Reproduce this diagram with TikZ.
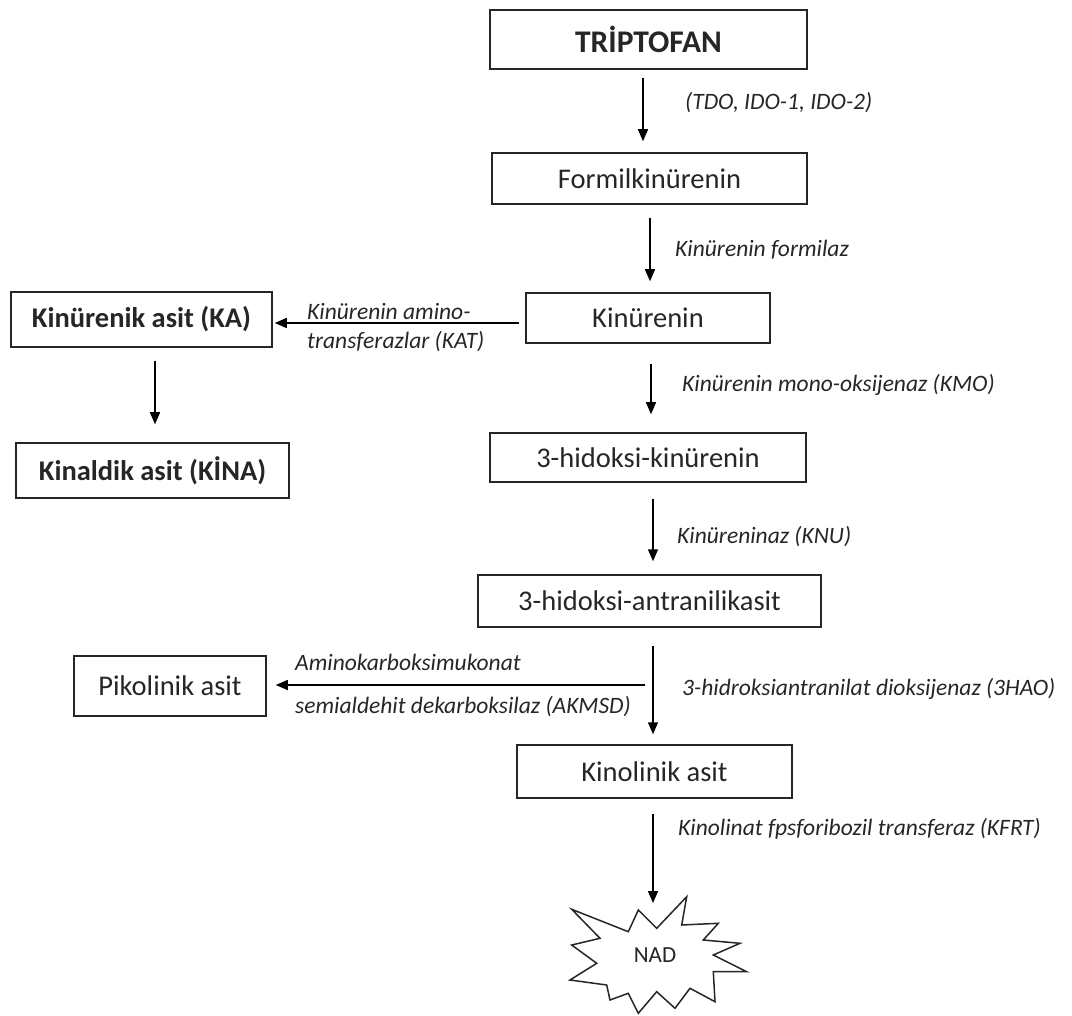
\documentclass[tikz,border=0pt]{standalone}
\usepackage{fontspec}
\setmainfont{Carlito}
\usetikzlibrary{arrows.meta}
\begin{document}
\begin{tikzpicture}[x=1pt,y=-1pt,
  box/.style={draw=black!85,line width=1.5pt,rectangle,inner sep=0pt,font=\fontsize{28.5}{34}\selectfont,text=black!85},
  boldbox/.style={box,font=\fontsize{28.5}{34}\selectfont\bfseries},
  lab/.style={anchor=west,inner sep=0pt,font=\fontsize{23.5}{28}\selectfont\itshape,text=black!85},
  arr/.style={line width=1.5pt,-{Triangle[length=12pt,width=10pt]}}]
\useasboundingbox (0,0) rectangle (1072,1016);
% boxes
\node[boldbox,minimum width=317pt,minimum height=59pt,font=\fontsize{31.5}{36}\selectfont\bfseries] (tript) at (648.5,39.5) {TRİPTOFAN};
\node[box,minimum width=315pt,minimum height=51pt] (formil) at (649.5,178.5) {Formilkinürenin};
\node[box,minimum width=244pt,minimum height=50pt] (kin) at (648,318) {Kinürenin};
\node[boldbox,minimum width=261pt,minimum height=55pt] (ka) at (141.5,319.5) {Kinürenik asit (KA)};
\node[boldbox,minimum width=273pt,minimum height=55pt] (kina) at (152.5,470.5) {Kinaldik asit (KİNA)};
\node[box,minimum width=316pt,minimum height=49pt] (hk) at (648,457.5) {3-hidoksi-kinürenin};
\node[box,minimum width=343pt,minimum height=52pt] (ha) at (649.5,601) {3-hidoksi-antranilikasit};
\node[box,minimum width=192pt,minimum height=60pt] (pik) at (170,686) {Pikolinik asit};
\node[box,minimum width=275pt,minimum height=53pt] (kinol) at (654.5,771.5) {Kinolinik asit};
% NAD star
\draw[black!85,line width=1.5pt,fill=white]
 (571.7,909.3) -- (628.3,931.7) -- (638.3,910) -- (656.7,928.3) -- (686.7,896.7)
 -- (681.7,925) -- (718.3,923.3) -- (703.3,940) -- (740,943.3) -- (713.3,955)
 -- (746.7,971.7) -- (713.3,971.7) -- (715,1001.7) -- (690,988.3) -- (675,1008.3)
 -- (656.7,991.7) -- (638.3,1013.3) -- (628.3,993.3) -- (610,1000) -- (606.7,985)
 -- (570,980) -- (596.7,963.3) -- (571.7,945) -- (600,938.3) -- cycle;
\node[inner sep=0pt,font=\fontsize{23}{27}\selectfont,text=black!85] (nad) at (655,955) {NAD};
\coordinate (nadtip) at (653,903);
% arrow x positions
\coordinate (x1) at (643,0);
\coordinate (x2) at (650,0);
\coordinate (x3) at (651,0);
\coordinate (x4) at (653,0);
\coordinate (xk) at (155,0);
\coordinate (ya) at (0,323);
\coordinate (yp) at (0,685);
\coordinate (pstart) at (645,685);
% arrows
\draw[arr,shorten <=8pt,shorten >=11pt] (tript.south -| x1) -- (formil.north -| x1);
\draw[arr,shorten <=13pt,shorten >=11pt] (formil.south -| x2) -- (kin.north -| x2);
\draw[arr,shorten <=20pt,shorten >=18pt] (kin.south -| x3) -- (hk.north -| x3);
\draw[arr,shorten <=16pt,shorten >=13pt] (hk.south -| x4) -- (ha.north -| x4);
\draw[arr,shorten <=18pt,shorten >=10pt] (ha.south -| x4) -- (kinol.north -| x4);
\draw[arr,shorten <=15pt] (kinol.south -| x4) -- (nadtip);
\draw[arr,shorten <=6pt,shorten >=2pt] (kin.west |- ya) -- (ka.east |- ya);
\draw[arr,shorten <=13pt,shorten >=18pt] (ka.south -| xk) -- (kina.north -| xk);
\draw[arr,shorten >=9pt] (pstart) -- (pik.east |- yp);
% labels
\node[lab] (l1) at (685,103) {(TDO, IDO-1, IDO-2)};
\node[lab] (l2) at (675,250) {Kinürenin formilaz};
\node[lab] (l3a) at (307,311) {Kinürenin amino-};
\node[lab] (l3b) at (307,342) {transferazlar (KAT)};
\node[lab] (l4) at (682,385) {Kinürenin mono-oksijenaz (KMO)};
\node[lab] (l5) at (677,537) {Kinüreninaz (KNU)};
\node[lab] (l6a) at (295,662) {Aminokarboksimukonat};
\node[lab] (l6b) at (295,707) {semialdehit dekarboksilaz (AKMSD)};
\node[lab] (l7) at (682,689) {3-hidroksiantranilat dioksijenaz (3HAO)};
\node[lab] (l8) at (678,829) {Kinolinat fpsforibozil transferaz (KFRT)};
\end{tikzpicture}
\end{document}
